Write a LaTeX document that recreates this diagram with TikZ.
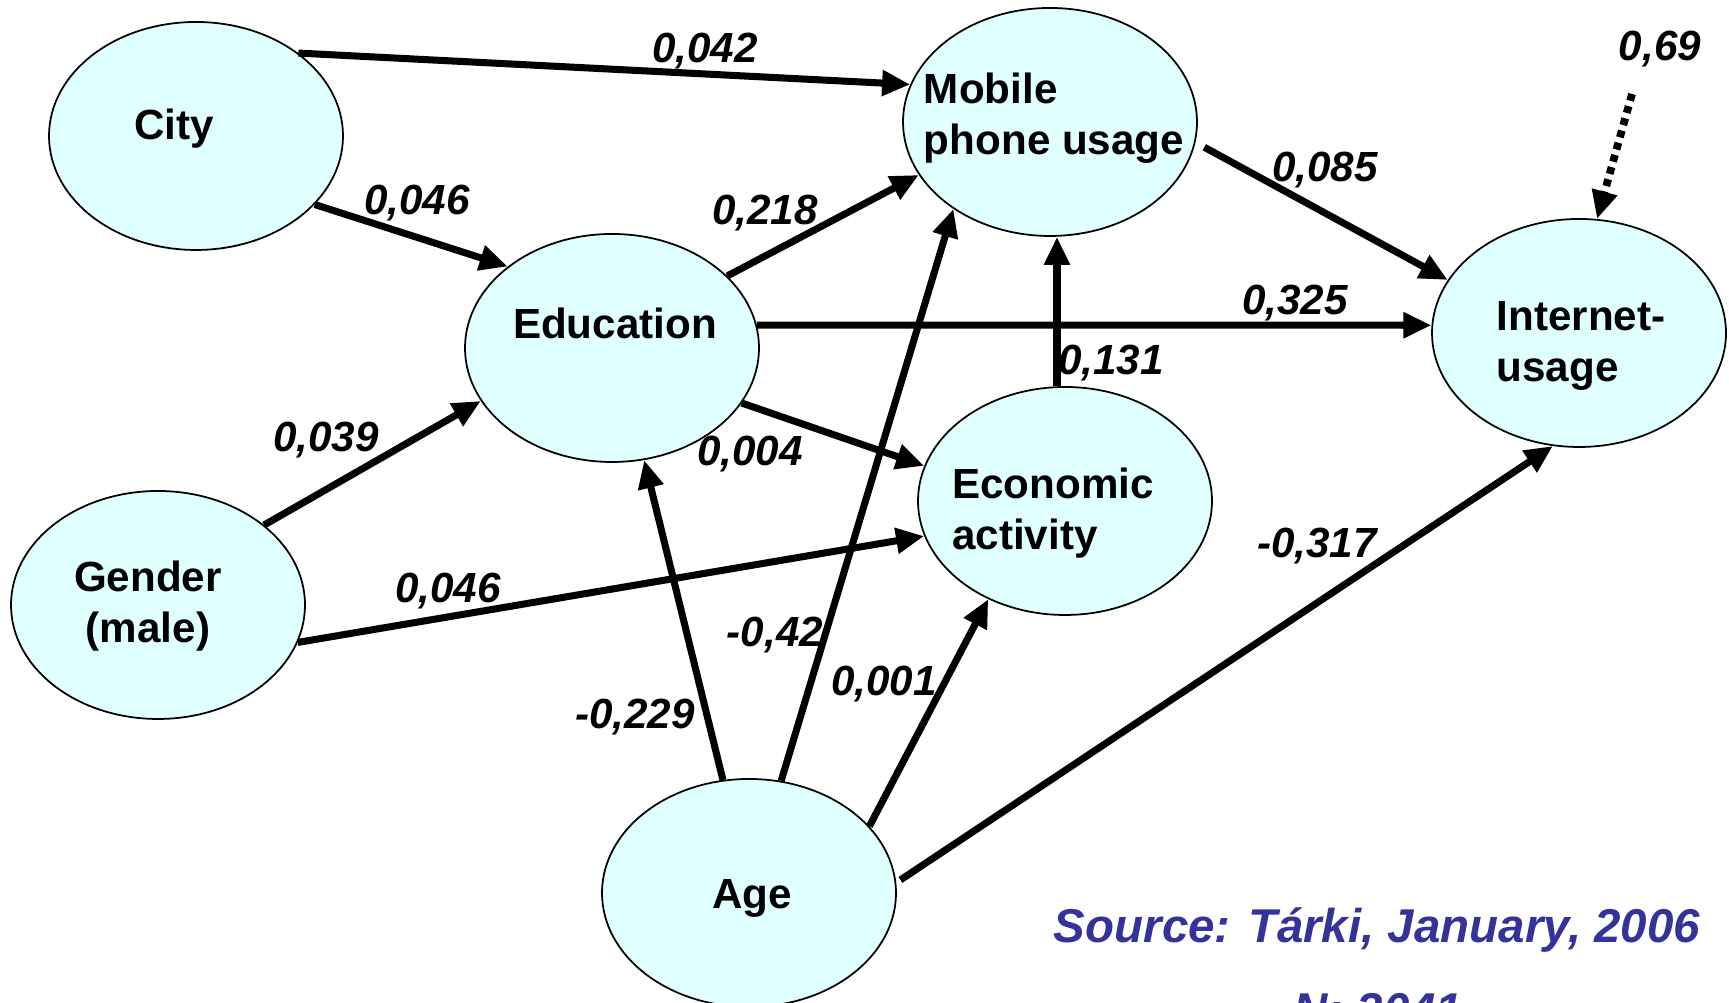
\documentclass[tikz,border=0pt]{standalone}
\usepackage{fontspec}
\setmainfont{Liberation Sans}
\usetikzlibrary{arrows.meta,shapes.geometric}
\definecolor{ellfill}{RGB}{224,255,255}
\definecolor{srcblue}{RGB}{51,51,153}
\begin{document}
\begin{tikzpicture}[
  var/.style={draw=black, line width=0.5pt, fill=ellfill, ellipse, minimum width=2.94cm, minimum height=2.28cm, inner sep=0pt},
  vtext/.style={font=\fontsize{12}{14.5}\selectfont\bfseries, inner sep=0pt},
  coef/.style={font=\fontsize{12}{14.5}\selectfont\bfseries\itshape, inner sep=0pt},
  arr/.style={line width=2pt, -{Triangle[length=8pt,width=7pt]}},
  resid/.style={line width=2.2pt, dash pattern=on 2pt off 1.6pt, -{Triangle[length=8pt,width=7pt]}}
]
\useasboundingbox (0,0) rectangle (17.29,10.03);
\clip (0,0) rectangle (17.29,10.03);
\fill[white] (0,0) rectangle (17.29,10.03);

% variables
\node[var] (city) at (1.96,8.67) {};
\node[var] (edu)  at (6.12,6.55) {};
\node[var] (mob)  at (10.50,8.81) {};
\node[var] (econ) at (10.65,5.02) {};
\node[var] (inet) at (15.79,6.70) {};
\node[var] (gen)  at (1.58,3.98) {};
\node[var] (age)  at (7.49,1.10) {};

% variable texts
\node[vtext] (cityt) at (1.74,8.74) {City};
\node[vtext] (edut)  at (6.15,6.80) {Education};
\node[vtext, align=left] (mobt)  at (10.54,8.85) {Mobile\\phone usage};
\node[vtext, align=left] (econt) at (10.53,4.90) {Economic\\activity};
\node[vtext, align=left] (inett) at (15.81,6.57) {Internet-\\usage};
\node[vtext, align=center] (gent) at (1.48,3.97) {Gender\\(male)};
\node[vtext] (aget) at (7.52,1.05) {Age};

% paths
\draw[arr] (city.39) -- (mob.165);
\draw[arr] (city.-30) -- (edu.142);
\draw[arr] (edu.32) -- (mob.202);
\draw[arr] (edu.9) -- (inet.177);
\draw[arr] (edu.-23) -- (econ.166);
\draw[arr] (gen.37) -- (edu.202);
\draw[arr] (gen.-15) -- (econ.194);
\draw[arr] (econ.94.5) -- (econ.94.5 |- mob.south);
\draw[arr, shorten <=0.1cm] (mob.-8) -- (inet.158);
\draw[arr] (age.103) -- (edu.286);
\draw[arr] (age.74) -- (mob.222);
\draw[arr] (age.29) -- (econ.232);
\draw[arr, shorten <=0.05cm] (age.4) -- (inet.257);
\coordinate (err) at (16.32,9.09);
\draw[resid] (err) -- (inet.81);

% coefficients
\node[coef] (c1)  at (7.05,9.52) {0,042};
\node[coef] (c2)  at (4.17,8.00) {0,046};
\node[coef] (c3)  at (7.65,7.90) {0,218};
\node[coef] (c4)  at (12.95,7.00) {0,325};
\node[coef] (c5)  at (7.50,5.49) {0,004};
\node[coef] (c6)  at (3.26,5.63) {0,039};
\node[coef] (c7)  at (4.48,4.12) {0,046};
\node[coef] (c8)  at (11.11,6.40) {0,131};
\node[coef] (c9)  at (13.25,8.33) {0,085};
\node[coef] (c10) at (6.35,2.86) {-0,229};
\node[coef] (c11) at (7.75,3.68) {-0,42};
\node[coef] (c12) at (8.84,3.19) {0,001};
\node[coef] (c13) at (13.17,4.57) {-0,317};
\node[coef] (c14) at (16.60,9.54) {0,69};

% source
\node[font=\fontsize{13.5}{16}\selectfont\bfseries\itshape, text=srcblue, anchor=base, inner sep=0pt] (src) at (13.77,0.60) {Source: Tárki, January, 2006};
\node[font=\fontsize{13.5}{16}\selectfont\bfseries\itshape, text=srcblue, anchor=base, inner sep=0pt] (nn) at (13.78,-0.24) {N: 2041};
\end{tikzpicture}
\end{document}
